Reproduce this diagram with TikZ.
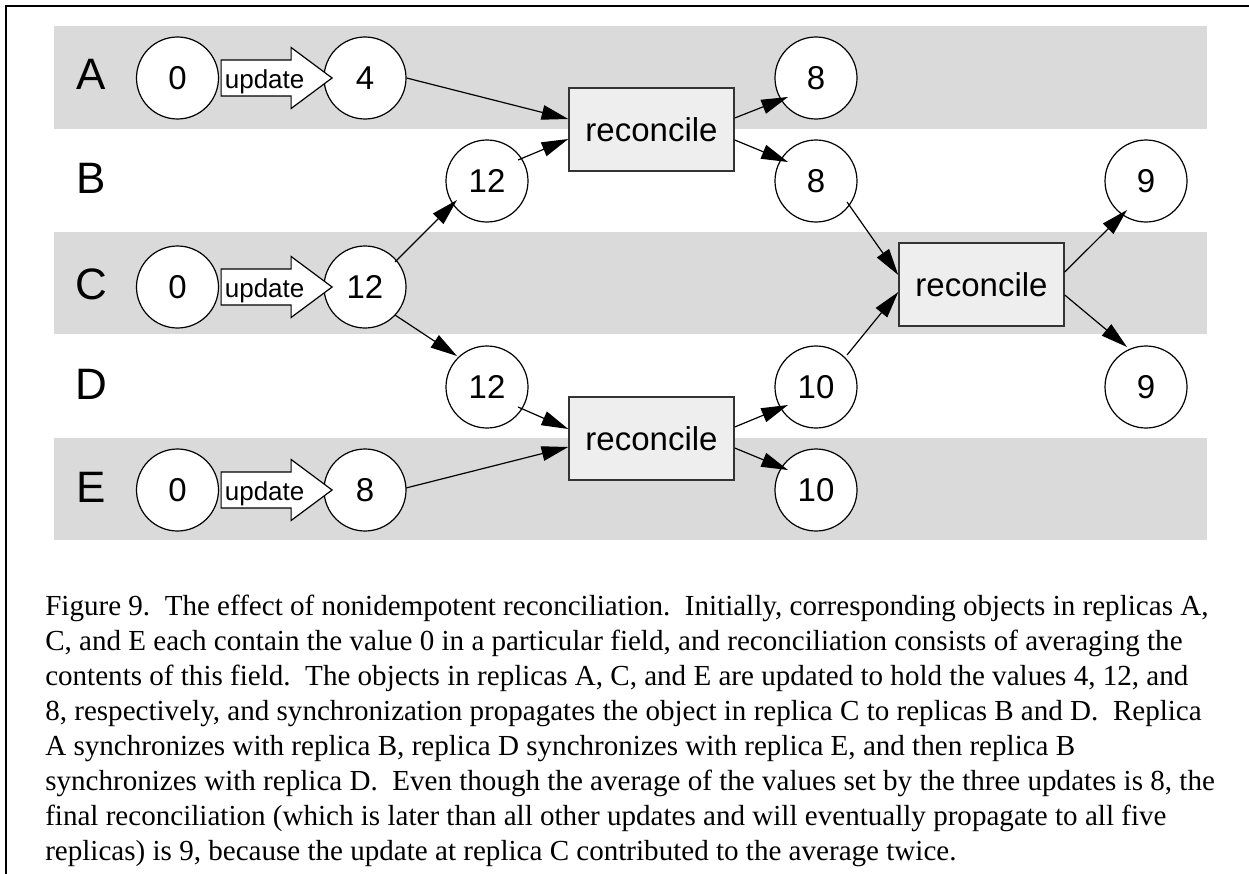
\documentclass[tikz,border=0pt]{standalone}
\usepackage{fontspec}
\setmainfont{Liberation Serif}
\setsansfont{Liberation Sans}
\usetikzlibrary{arrows.meta,calc}
\definecolor{bandgray}{HTML}{DADADA}
\definecolor{boxfill}{HTML}{EEEEEE}
\definecolor{boxline}{HTML}{333333}
\frenchspacing

% hollow "update" arrow from a value circle, with its label
\newcommand{\updarrow}[2]{%
  \draw[upd] ($(#1.east)+(2,-18)$) -- ++(70,0) -- ++(0,-12.5) -- ++(41,30.5)
     -- ++(-41,30.5) -- ++(0,-12.5) -- ++(-70,0) -- cycle;
  \node[updlabel] (#2) at ($(#1.east)+(45.5,10.5)$) {update};}

\begin{document}
\begin{tikzpicture}[x=0.75pt,y=-0.75pt,
  val/.style={circle,draw=black,fill=white,line width=0.9pt,minimum size=61.5pt,
    inner sep=0pt,font=\sffamily\fontsize{24.75}{28}\selectfont},
  recbox/.style={draw=boxline,fill=boxfill,line width=1.1pt,minimum width=123.75pt,
    minimum height=62.25pt,inner sep=0pt,font=\sffamily\fontsize{24.75}{28}\selectfont},
  rowlabel/.style={inner sep=0pt,font=\sffamily\fontsize{33}{36}\selectfont},
  upd/.style={draw=black,fill=white,line width=0.9pt,line join=miter},
  updlabel/.style={anchor=base,inner sep=0pt,font=\sffamily\fontsize{19.5}{22}\selectfont},
  link/.style={-{Triangle[length=20pt,width=11pt]},line width=0.9pt},
  capline/.style={anchor=base west,inner sep=0pt,font=\fontsize{21.8}{26}\selectfont}]

\useasboundingbox (0,0) rectangle (1249,874);

% frame
\draw[line width=1.5pt] (6,874) -- (6,6) -- (1249,6);

% replica bands
\fill[bandgray] (54,26) rectangle (1207,129);
\fill[bandgray] (54,232) rectangle (1207,334);
\fill[bandgray] (54,438) rectangle (1207,540);

% replica names
\node[rowlabel] (la) at (91,74) {A};
\node[rowlabel] (lb) at (91,178) {B};
\node[rowlabel] (lc) at (91,284) {C};
\node[rowlabel] (ld) at (91,384) {D};
\node[rowlabel] (le) at (91,487) {E};

% values
\node[val] (a0)  at (177.5,78) {0};
\node[val] (a4)  at (365,78)   {4};
\node[val] (a8)  at (816,78)   {8};
\node[val] (b12) at (487,181)  {12};
\node[val] (b8)  at (816,181)  {8};
\node[val] (b9)  at (1146,181) {9};
\node[val] (c0)  at (177.5,287) {0};
\node[val] (c12) at (365,287)  {12};
\node[val] (d12) at (487,387)  {12};
\node[val] (d10) at (816,387)  {10};
\node[val] (d9)  at (1146,387) {9};
\node[val] (e0)  at (177.5,490) {0};
\node[val] (e8)  at (365,490)  {8};
\node[val] (e10) at (816,490)  {10};

% reconciliations
\node[recbox] (r1) at (651.5,129.5) {reconcile};
\node[recbox] (r2) at (981.5,284.5) {reconcile};
\node[recbox] (r3) at (651.5,438.5) {reconcile};

% updates
\updarrow{a0}{ua}
\updarrow{c0}{uc}
\updarrow{e0}{ue}

% synchronization and reconciliation flows
\draw[link] (a4.east) -- ($(r1.west)+(0,-10.5)$);
\draw[link] ($(b12)+(31,-21)$) -- ($(r1.west)+(0,9.5)$);
\draw[link] ($(r1.east)+(0,-11.5)$) -- ($(a8)+(-28,19)$);
\draw[link] ($(r1.east)+(0,10.5)$) -- ($(b8)+(-28,-19)$);
\draw[link] ($(c12)+(30,-25)$) -- ($(b12)+(-30,19)$);
\draw[link] ($(c12)+(30,28)$) -- ($(d12)+(-30,-31)$);
\draw[link] ($(b8)+(31,21)$) -- ($(r2.west)+(0,-9.5)$);
\draw[link] ($(d10)+(31,-32)$) -- ($(r2.west)+(0,7.5)$);
\draw[link] ($(r2.east)+(0,-12.5)$) -- ($(b9)+(-19,29)$);
\draw[link] ($(r2.east)+(0,10.5)$) -- ($(d9)+(-19,-40)$);
\draw[link] ($(d12)+(31,20)$) -- ($(r3.west)+(0,-9.5)$);
\draw[link] ($(e8)+(41,-2)$) -- ($(r3.west)+(0,8.5)$);
\draw[link] ($(r3.east)+(0,-11.5)$) -- ($(d10)+(-28,18)$);
\draw[link] ($(r3.east)+(0,9.5)$) -- ($(e10)+(-28,-20)$);

% caption
\node[capline] (cap1) at (45,615) {Figure 9.~~The effect of nonidempotent reconciliation.~~Initially, corresponding objects in replicas A,};
\node[capline] (cap2) at (45,650) {C, and E each contain the value 0 in a particular field, and reconciliation consists of averaging the};
\node[capline] (cap3) at (45,685) {contents of this field.~~The objects in replicas A, C, and E are updated to hold the values 4, 12, and};
\node[capline] (cap4) at (45,720) {8, respectively, and synchronization propagates the object in replica C to replicas B and D.~~Replica};
\node[capline] (cap5) at (45,755) {A synchronizes with replica B, replica D synchronizes with replica E, and then replica B};
\node[capline] (cap6) at (45,790) {synchronizes with replica D.~~Even though the average of the values set by the three updates is 8, the};
\node[capline] (cap7) at (45,825) {final reconciliation (which is later than all other updates and will eventually propagate to all five};
\node[capline] (cap8) at (45,860) {replicas) is 9, because the update at replica C contributed to the average twice.};
\end{tikzpicture}
\end{document}
